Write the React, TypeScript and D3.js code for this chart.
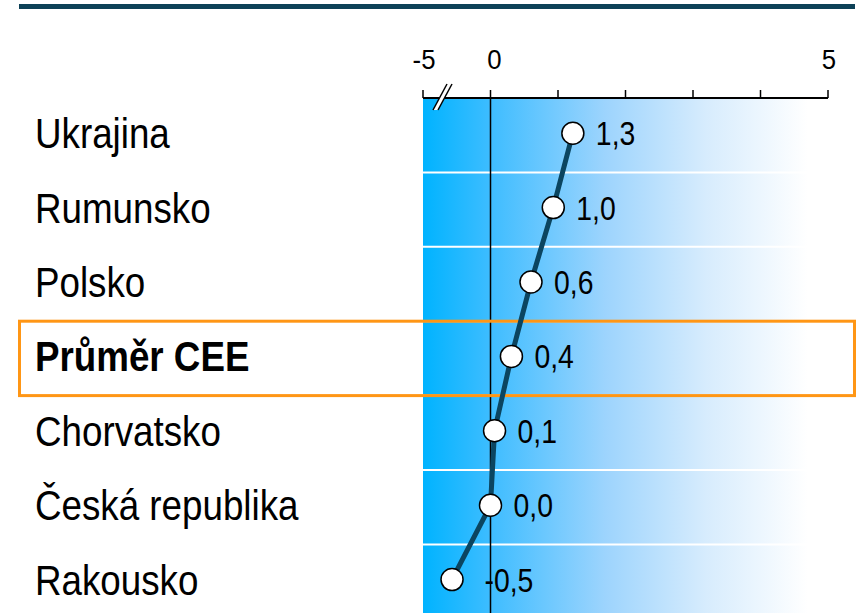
import React from 'react';
import * as d3 from 'd3';

// categories top to bottom
const countries = ['Ukrajina', 'Rumunsko', 'Polsko', 'Průměr CEE', 'Chorvatsko', 'Česká republika', 'Rakousko'];
// plotted position and the printed label
const values = [1.22, 0.93, 0.6, 0.31, 0.06, 0.0, -0.57];
const valueLabels = ['1,3', '1,0', '0,6', '0,4', '0,1', '0,0', '-0,5'];
const highlight = 'Průměr CEE';
// axis: the left end (-1 on the scale) is labelled -5 because of the break
const tickValues = [-1, 0, 1, 2, 3, 4, 5];
const tickLabels: Record<number, string> = { [-1]: '-5', 0: '0', 5: '5' };

const W = 858;
const H = 613;
const FONT = "'Liberation Sans', Arial, sans-serif";

// no narrow font installed, so squeeze the regular one around its anchor
const Narrow: React.FC<{ x: number; y: number; size: number; sq: number; bold?: boolean; anchor?: string; children: React.ReactNode }> =
  ({ x, y, size, sq, bold, anchor, children }) => (
    <text transform={`translate(${x},${y}) scale(${sq},1)`} textAnchor={anchor || 'start'}
      style={{ fontFamily: FONT, fontSize: size, fontWeight: bold ? 'bold' : 'normal', fill: '#000' }}>
      {children}
    </text>
  );

const App: React.FC = () => {
  const x = d3.scaleLinear().domain([-1, 5]).range([423, 828]);
  const axisY = 98;
  const y = d3.scaleBand<string>().domain(countries).range([axisY, axisY + 74.4 * countries.length]);
  const bw = y.bandwidth();
  const cy = (c: string) => (y(c) as number) + bw / 2;

  const pts: [number, number][] = countries.map((c, i) => [x(values[i]), cy(c) - 2]);
  const line = d3.line<[number, number]>()(pts) as string;

  const hl = y(highlight) as number;

  return (
    <svg width={W} height={H} style={{ position: 'absolute', left: 0, top: 0, background: '#fff' }}>
      <defs>
        <linearGradient id="bg" x1="0" x2="1" y1="0" y2="0">
          <stop offset="0" stopColor="#00b3ff" />
          <stop offset="0.17" stopColor="#3fbdff" />
          <stop offset="0.45" stopColor="#9dd4fd" />
          <stop offset="0.7" stopColor="#d7ecfd" />
          <stop offset="0.95" stopColor="#ffffff" />
        </linearGradient>
      </defs>

      {/* top rule */}
      <rect x={19} y={4} width={836} height={5} fill="#0d4157" />

      {/* plot background */}
      <rect x={x(-1)} y={axisY} width={x(5) - x(-1)} height={H - axisY} fill="url(#bg)" />

      {/* row separators */}
      {countries.slice(1).map(c => (
        <line key={c} x1={x(-1)} x2={x(5)} y1={y(c)} y2={y(c)} stroke="#fff" strokeWidth={2} />
      ))}

      {/* zero line */}
      <line x1={x(0)} x2={x(0)} y1={axisY} y2={H} stroke="#000" strokeWidth={1.5} />

      {/* axis */}
      <line x1={x(-1)} x2={x(5)} y1={axisY} y2={axisY} stroke="#000" strokeWidth={2} />
      {tickValues.map(t => (
        <line key={t} x1={x(t)} x2={x(t)} y1={axisY} y2={axisY - 8} stroke="#000" strokeWidth={1.5} />
      ))}
      {tickValues.filter(t => tickLabels[t]).map(t => (
        <Narrow key={t} x={x(t) + (t === 0 ? 4 : 1)} y={69} size={28} sq={0.92} anchor="middle">{tickLabels[t]}</Narrow>
      ))}

      {/* axis break */}
      <polygon points="447,84 452,84 438,110 433,110" fill="#fff" />
      <line x1={447} y1={84} x2={433} y2={110} stroke="#000" strokeWidth={1.5} />
      <line x1={452} y1={84} x2={438} y2={110} stroke="#000" strokeWidth={1.5} />

      {/* highlight box */}
      <rect x={19.5} y={hl} width={835} height={bw} fill="none" stroke="#ff9615" strokeWidth={3} />

      {/* category labels */}
      {countries.map(c => (
        <Narrow key={c} x={35} y={cy(c) + 13} size={42} sq={0.875} bold={c === highlight}>{c}</Narrow>
      ))}

      {/* line + points */}
      <path d={line} fill="none" stroke="#0b4560" strokeWidth={5} />
      {pts.map((p, i) => (
        <circle key={i} cx={p[0]} cy={p[1]} r={11} fill="#fff" stroke="#000" strokeWidth={1.5} />
      ))}
      {pts.map((p, i) => (
        <Narrow key={i} x={Math.max(p[0] + 23, x(0) - 6)} y={p[1] + 12} size={33} sq={0.86}>{valueLabels[i]}</Narrow>
      ))}
    </svg>
  );
};

export default App;
